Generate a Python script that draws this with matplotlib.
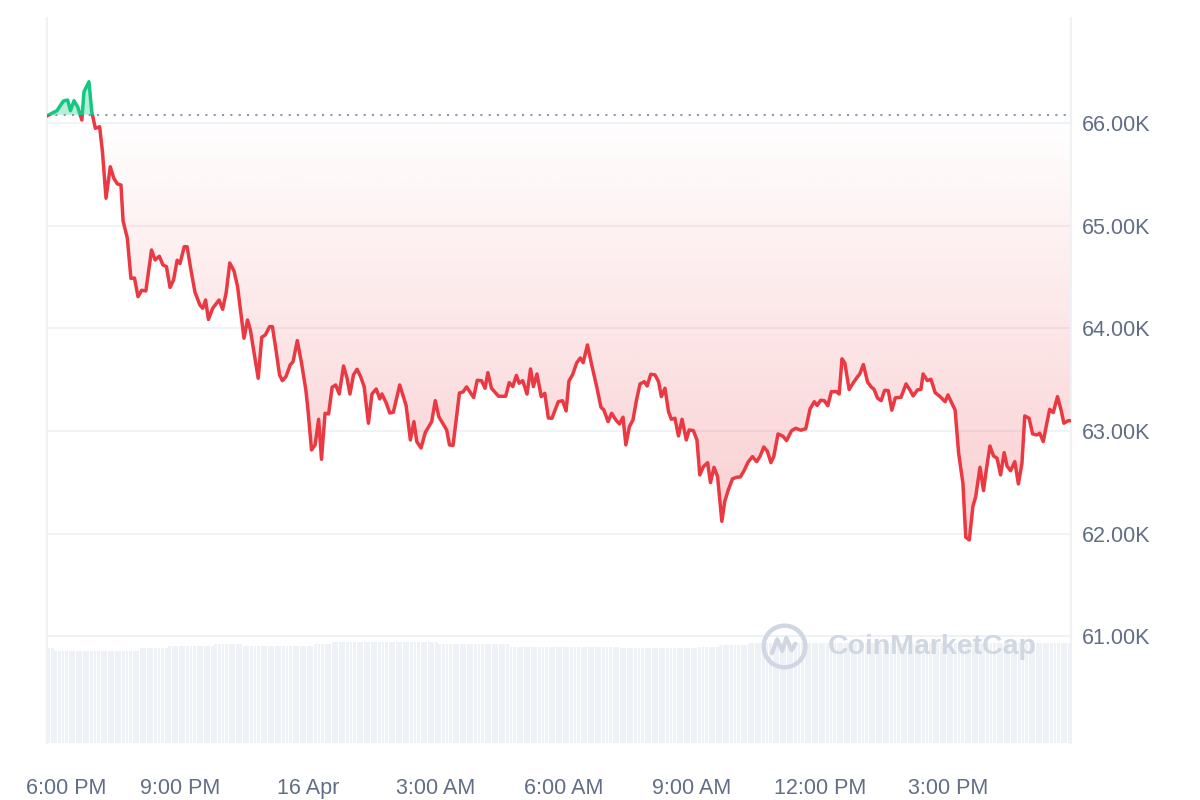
import datetime as dt
import numpy as np
import matplotlib
matplotlib.use("Agg")
import matplotlib.pyplot as plt
import matplotlib.dates as mdates
from matplotlib.ticker import FuncFormatter, FixedLocator
from matplotlib.path import Path
from matplotlib.patches import Rectangle
from matplotlib.transforms import ScaledTranslation

plt.rcParams['font.family'] = ['Liberation Sans', 'DejaVu Sans']

# 24h window, 15 Apr 17:53 -> 16 Apr 17:53
start = dt.datetime(2024, 4, 15, 17, 53)
end = start + dt.timedelta(minutes=1440)

# minutes after start / price in USD
minutes = [0, 14, 23, 29, 33, 38, 43, 49, 52, 59,
           63, 68, 74, 78, 83, 89, 94, 99, 104, 107,
           113, 118, 123, 128, 133, 139, 147, 152, 158, 163,
           168, 173, 178, 183, 187, 193, 197, 202, 208, 215,
           219, 223, 227, 233, 242, 247, 252, 257, 263, 268,
           272, 277, 282, 286, 292, 297, 302, 307, 313, 317,
           322, 327, 331, 336, 342, 346, 352, 358, 364, 367,
           372, 377, 382, 386, 391, 396, 401, 406, 411, 417,
           422, 426, 431, 436, 441, 446, 452, 457, 463, 468,
           471, 477, 482, 487, 496, 505, 511, 516, 520, 526,
           532, 541, 546, 551, 557, 562, 566, 571, 580, 585,
           590, 600, 605, 611, 616, 620, 625, 635, 645, 650,
           655, 660, 664, 669, 675, 680, 684, 689, 695, 700,
           705, 710, 719, 725, 730, 734, 739, 745, 750, 754,
           760, 766, 773, 779, 783, 789, 794, 800, 805, 810,
           814, 819, 824, 829, 834, 840, 844, 849, 855, 860,
           864, 869, 874, 878, 883, 888, 893, 899, 903, 909,
           914, 918, 923, 929, 933, 938, 943, 949, 953, 958,
           964, 970, 975, 980, 986, 992, 998, 1003, 1008, 1013,
           1018, 1022, 1028, 1035, 1040, 1047, 1053, 1060, 1067, 1073,
           1079, 1083, 1088, 1093, 1098, 1103, 1110, 1114, 1118, 1122,
           1128, 1134, 1140, 1143, 1148, 1154, 1159, 1163, 1168, 1173,
           1178, 1183, 1188, 1193, 1201, 1208, 1214, 1218, 1224, 1229,
           1232, 1238, 1243, 1249, 1256, 1263, 1267, 1272, 1277, 1282,
           1288, 1292, 1297, 1302, 1306, 1312, 1317, 1321, 1326, 1331,
           1336, 1341, 1346, 1350, 1355, 1361, 1366, 1371, 1375, 1381,
           1386, 1392, 1396, 1401, 1406, 1410, 1415, 1421, 1426, 1430,
           1436, 1439]
prices = [66070, 66120, 66214, 66224, 66120, 66217, 66159, 66029, 66305, 66402,
          66107, 65948, 65964, 65718, 65267, 65574, 65461, 65406, 65396, 65045,
          64877, 64487, 64490, 64308, 64370, 64364, 64763, 64666, 64702, 64617,
          64600, 64398, 64471, 64663, 64630, 64795, 64795, 64585, 64354, 64227,
          64195, 64276, 64086, 64195, 64276, 64185, 64349, 64636, 64558, 64406,
          64179, 63903, 64081, 63984, 63724, 63513, 63913, 63935, 64016, 64016,
          63789, 63546, 63490, 63529, 63643, 63675, 63880, 63659, 63399, 63205,
          62815, 62864, 63114, 62724, 63172, 63166, 63426, 63448, 63360, 63633,
          63513, 63360, 63546, 63601, 63529, 63432, 63075, 63360, 63409, 63312,
          63360, 63273, 63175, 63182, 63448, 63248, 62912, 63091, 62896, 62834,
          62985, 63091, 63295, 63139, 63068, 63010, 62864, 62859, 63370, 63380,
          63429, 63326, 63494, 63490, 63416, 63568, 63416, 63338, 63338, 63471,
          63432, 63541, 63465, 63490, 63359, 63604, 63432, 63555, 63334, 63367,
          63127, 63122, 63285, 63295, 63195, 63487, 63546, 63665, 63711, 63665,
          63838, 63643, 63432, 63231, 63205, 63091, 63172, 63107, 63068, 63134,
          62864, 63042, 63107, 63302, 63458, 63480, 63438, 63552, 63546, 63480,
          63334, 63416, 63188, 63114, 63124, 62951, 63114, 62912, 63010, 63003,
          62912, 62572, 62652, 62691, 62497, 62646, 62555, 62119, 62311, 62425,
          62534, 62549, 62552, 62610, 62698, 62750, 62701, 62757, 62844, 62802,
          62691, 62750, 62971, 62948, 62906, 63002, 63026, 63007, 63022, 63214,
          63285, 63248, 63299, 63295, 63246, 63383, 63383, 63360, 63703, 63659,
          63403, 63471, 63530, 63555, 63647, 63475, 63429, 63406, 63319, 63295,
          63396, 63393, 63202, 63323, 63328, 63458, 63393, 63341, 63399, 63406,
          63555, 63490, 63504, 63373, 63334, 63285, 63351, 63276, 63205, 62783,
          62491, 61965, 61938, 62263, 62360, 62646, 62419, 62627, 62854, 62757,
          62734, 62572, 62789, 62659, 62613, 62701, 62484, 62685, 63146, 63124,
          62971, 62961, 62978, 62896, 63075, 63211, 63178, 63334, 63205, 63075,
          63100, 63100]
base_price = 66080  # price 24h ago (dotted line)

# 5 min volume bars (billion USD), read as steps
vol_levels = [37.9, 36.9, 37.9, 38.8, 39.6, 38.8, 39.6, 40.3, 39.6, 38.4, 38.2, 38.5, 39.2, 40.2]
vol_counts = [2, 24, 8, 13, 8, 20, 5, 30, 20, 31, 22, 6, 8, 91]
volume = []
for v, n in zip(vol_levels, vol_counts):
    volume += [v] * n

price_ticks = [61000, 62000, 63000, 64000, 65000, 66000]
time_ticks = [dt.datetime(2024, 4, 15, 18) + dt.timedelta(hours=3 * i) for i in range(8)]

RED = '#ea3943'
GREEN = '#16c784'
GREY_TXT = '#616e85'
GRID = '#eff2f5'

fig = plt.figure(figsize=(12, 8), dpi=100)
pos = [47 / 1200, 57 / 800, 1024 / 1200, 725 / 800]

# volume in its own axes, underneath
axv = fig.add_axes(pos)
vol_t = [start + dt.timedelta(minutes=5 * i + 2.5) for i in range(len(volume))]
axv.bar(vol_t, volume, width=5 / 1440 * 0.8, color='#eef1f5', linewidth=0)
axv.set_ylim(0, 290)
axv.set_xlim(start, end)
axv.axis('off')

ax = fig.add_axes(pos)
ax.patch.set_alpha(0)

t = [start + dt.timedelta(minutes=m) for m in minutes]
tnum = mdates.date2num(t)
p = np.array(prices)
x0, x1 = mdates.date2num(start), mdates.date2num(end)

# line: green above the 24h price, red below
ln_g, = ax.plot(t, p, color=GREEN, lw=2.5, zorder=4, solid_joinstyle='round')
ln_r, = ax.plot(t, p, color=RED, lw=2.5, zorder=4, solid_joinstyle='round')
ln_g.set_clip_path(Rectangle((x0, base_price), x1 - x0, 5000, transform=ax.transData))
ln_r.set_clip_path(Rectangle((x0, base_price - 8000), x1 - x0, 8000, transform=ax.transData))

ax.fill_between(tnum, p, base_price, where=p >= base_price, interpolate=True,
                color=GREEN, alpha=0.3, linewidth=0, zorder=2)
poly = ax.fill_between(tnum, p, base_price, where=p < base_price, interpolate=True,
                       facecolor='none', edgecolor='none')

# pink gradient under the red part
n = 256
rgba = np.zeros((n, 1, 4))
rgba[..., 0], rgba[..., 1], rgba[..., 2] = 234 / 255, 57 / 255, 67 / 255
rgba[:, 0, 3] = np.linspace(0.0, 0.25, n)
im = ax.imshow(rgba, extent=[x0, x1, p.min(), base_price], origin='upper',
               aspect='auto', zorder=1, interpolation='bilinear')
im.set_clip_path(Path.make_compound_path(*poly.get_paths()), transform=ax.transData)

ax.axhline(base_price, color='#8f98a8', ls=(0, (1, 3)), lw=1.5, zorder=3)

ax.set_xlim(start, end)
ax.set_ylim(59960, 67023)

# axes / ticks
ax.yaxis.tick_right()
ax.yaxis.set_major_locator(FixedLocator(price_ticks))
ax.yaxis.set_major_formatter(FuncFormatter(lambda v, _: f"{v / 1000:.2f}K"))
ax.xaxis.set_major_locator(FixedLocator(mdates.date2num(time_ticks)))


def fmt_time(v, _):
    d = mdates.num2date(v)
    if d.hour == 0:
        return d.strftime('%d %b').lstrip('0')
    return d.strftime('%I:%M %p').lstrip('0')


ax.xaxis.set_major_formatter(FuncFormatter(fmt_time))
ax.tick_params(axis='y', length=0, pad=8, labelcolor=GREY_TXT, labelsize=15.5)
ax.tick_params(axis='x', length=0, pad=25, labelcolor=GREY_TXT, labelsize=15.5)
ax.grid(axis='y', color=GRID, lw=1.3, zorder=0)
ax.set_axisbelow(True)
for s in ['top', 'bottom']:
    ax.spines[s].set_visible(False)
for s in ['left', 'right']:
    ax.spines[s].set_color(GRID)
    ax.spines[s].set_linewidth(1.5)

# first label sits clear of the left edge
fig.canvas.draw()
lbls = ax.get_xticklabels()
lbls[0].set_transform(lbls[0].get_transform() + ScaledTranslation(14 / 100, 0, fig.dpi_scale_trans))

# watermark
ax.text(0.865, 0.132, "CoinMarketCap", transform=ax.transAxes, ha='center', va='center',
        fontsize=20.5, fontweight='bold', color='#d0d7e3', zorder=5)
ax.plot([0.7197], [0.134], transform=ax.transAxes, marker='o', ms=30, mfc='none',
        mec='#d0d7e3', mew=3.2, zorder=5)
ax.plot([0.708, 0.713, 0.718, 0.722, 0.727, 0.731], [0.124, 0.143, 0.127, 0.145, 0.128, 0.137],
        transform=ax.transAxes, color='#d0d7e3', lw=3, zorder=5, solid_capstyle='round')

plt.savefig("out.png", dpi=100)
